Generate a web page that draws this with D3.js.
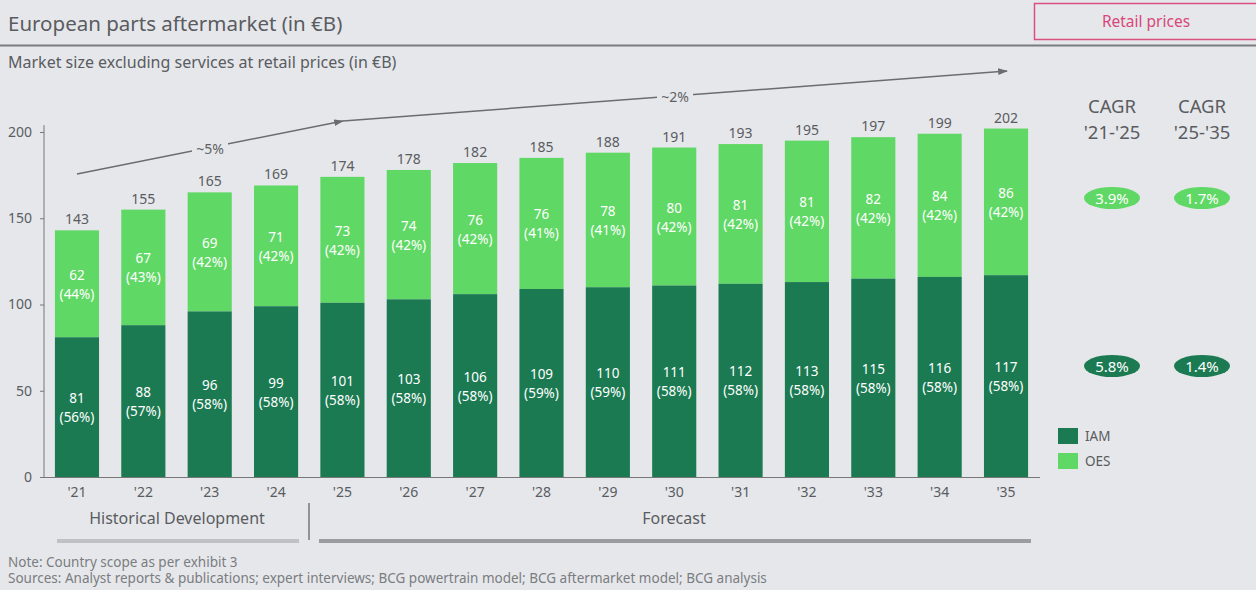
<!DOCTYPE html>
<html>
<head>
<meta charset="utf-8">
<script src="https://cdn.jsdelivr.net/npm/d3@7/dist/d3.min.js"></script>
<style>
  html, body { margin: 0; padding: 0; background: #e6e7eb; }
  svg { display: block; font-family: "Noto Sans", "DejaVu Sans", sans-serif; }
</style>
</head>
<body>
<svg id="chart" width="1256" height="590"></svg>
<script>
// Market size (€B) per year
const years = ["'21","'22","'23","'24","'25","'26","'27","'28","'29","'30","'31","'32","'33","'34","'35"];
const totals = [143,155,165,169,174,178,182,185,188,191,193,195,197,199,202];
const iamValues = [81,88,96,99,101,103,106,109,110,111,112,113,115,116,117];
const iamShare = [56,57,58,58,58,58,58,59,59,58,58,58,58,58,58];
const oesValues = [62,67,69,71,73,74,76,76,78,80,81,81,82,84,86];
const oesShare = [44,43,42,42,42,42,42,41,41,42,42,42,42,42,42];
const yTicks = [0,50,100,150,200];
const cagrHeaders = [["CAGR","'21-'25"],["CAGR","'25-'35"]];
const cagrOes = ["3.9%","1.7%"];
const cagrIam = ["5.8%","1.4%"];
const trendLabels = ["~5%","~2%"];

const C_IAM = "#1b7a52";
const C_OES = "#5fd865";
const TXT = "#595c60";
const BG = "#e6e7eb";

const svg = d3.select("#chart");

const x = d3.scaleBand().domain(years).range([43.8, 1039.2])
  .paddingInner(0.335).paddingOuter(0.1675);
const y = d3.scaleLinear().domain([0, 200]).range([477, 132]);

// Header
svg.append("text").attr("x", 8).attr("y", 31).attr("font-size", 20.5)
  .attr("fill", TXT).text("European parts aftermarket (in €B)");
svg.append("line").attr("x1", 0).attr("x2", 1256).attr("y1", 45.5).attr("y2", 45.5)
  .attr("stroke", "#7a7d80").attr("stroke-width", 2);
svg.append("rect").attr("x", 1034.5).attr("y", 3.5).attr("width", 230).attr("height", 36)
  .attr("fill", "none").attr("stroke", "#d9507f").attr("stroke-width", 1.5);
svg.append("text").attr("x", 1146).attr("y", 27).attr("text-anchor", "middle")
  .attr("font-size", 15.5).attr("fill", "#d9477a").text("Retail prices");
svg.append("text").attr("x", 8).attr("y", 68).attr("font-size", 16)
  .attr("fill", TXT).text("Market size excluding services at retail prices (in €B)");

// Y axis
const yAxis = d3.axisLeft(y).tickValues(yTicks).tickSize(4).tickPadding(8);
const gy = svg.append("g").attr("transform", "translate(44,0)").call(yAxis);
gy.select(".domain").attr("d", "M0," + y(0) + "V" + y(204)).attr("stroke", "#777");
gy.selectAll(".tick line").attr("stroke", "#777");
gy.selectAll(".tick text").attr("font-size", 14).attr("fill", TXT)
  .attr("font-family", "'Noto Sans', sans-serif");

// X axis
const xAxis = d3.axisBottom(x).tickSize(0).tickPadding(10);
const gx = svg.append("g").attr("transform", "translate(0," + y(0) + ")").call(xAxis);
gx.select(".domain").attr("d", "M40,0.5H1040").attr("stroke", "#777");
gx.selectAll(".tick text").attr("font-size", 14).attr("fill", TXT)
  .attr("font-family", "'Noto Sans', sans-serif");

// Stacked bars
const bars = svg.append("g");
years.forEach((yr, i) => {
  const bx = x(yr), bw = x.bandwidth(), cx = bx + bw / 2;
  bars.append("rect").attr("x", bx).attr("width", bw)
    .attr("y", y(totals[i])).attr("height", y(iamValues[i]) - y(totals[i])).attr("fill", C_OES);
  bars.append("rect").attr("x", bx).attr("width", bw)
    .attr("y", y(iamValues[i])).attr("height", y(0) - y(iamValues[i])).attr("fill", C_IAM);

  const oesMid = (y(totals[i]) + y(iamValues[i])) / 2;
  const iamMid = (y(iamValues[i]) + y(0)) / 2;
  [[oesMid, oesValues[i], oesShare[i]], [iamMid, iamValues[i], iamShare[i]]].forEach(([m, v, s]) => {
    bars.append("text").attr("x", cx).attr("y", m - 4).attr("text-anchor", "middle")
      .attr("font-size", 13.5).attr("fill", "#fff").text(v);
    bars.append("text").attr("x", cx).attr("y", m + 15).attr("text-anchor", "middle")
      .attr("font-size", 13.5).attr("fill", "#fff").text("(" + s + "%)");
  });
  bars.append("text").attr("x", cx).attr("y", y(totals[i]) - 6).attr("text-anchor", "middle")
    .attr("font-size", 14).attr("fill", TXT).text(totals[i]);
});

// Growth trend arrows
const defs = svg.append("defs");
defs.append("marker").attr("id", "arrow").attr("viewBox", "0 0 10 10")
  .attr("refX", 9).attr("refY", 5).attr("markerWidth", 7).attr("markerHeight", 7)
  .attr("orient", "auto").append("path").attr("d", "M0,1.5L10,5L0,8.5Z").attr("fill", "#6a6d70");

const trends = [
  { from: [x(years[0]) + x.bandwidth() / 2, 174], to: [343, 121], label: trendLabels[0], at: [210, 149] },
  { from: [343, 121], to: [1007, 71], label: trendLabels[1], at: [675, 97] }
];
trends.forEach(t => {
  svg.append("line").attr("x1", t.from[0]).attr("y1", t.from[1])
    .attr("x2", t.to[0]).attr("y2", t.to[1]).attr("stroke", "#6a6d70")
    .attr("stroke-width", 1.4).attr("marker-end", "url(#arrow)");
  svg.append("rect").attr("x", t.at[0] - 18).attr("y", t.at[1] - 9).attr("width", 36)
    .attr("height", 18).attr("fill", BG);
  svg.append("text").attr("x", t.at[0]).attr("y", t.at[1] + 5).attr("text-anchor", "middle")
    .attr("font-size", 14).attr("fill", "#5f6265").text(t.label);
});

// CAGR columns
const cagrX = [1112, 1202];
cagrHeaders.forEach((h, j) => {
  svg.append("text").attr("x", cagrX[j]).attr("y", 113).attr("text-anchor", "middle")
    .attr("font-size", 18.5).attr("fill", TXT).text(h[0]);
  svg.append("text").attr("x", cagrX[j]).attr("y", 139).attr("text-anchor", "middle")
    .attr("font-size", 18.5).attr("fill", TXT).text(h[1]);
});
[[cagrOes, C_OES, 198], [cagrIam, C_IAM, 366]].forEach(([vals, col, cy]) => {
  vals.forEach((v, j) => {
    svg.append("ellipse").attr("cx", cagrX[j]).attr("cy", cy).attr("rx", 28).attr("ry", 11)
      .attr("fill", col);
    svg.append("text").attr("x", cagrX[j]).attr("y", cy + 5.5).attr("text-anchor", "middle")
      .attr("font-size", 15).attr("fill", "#fff").text(v);
  });
});

// Legend
[["IAM", C_IAM, 428], ["OES", C_OES, 453]].forEach(([name, col, ly]) => {
  svg.append("rect").attr("x", 1058).attr("y", ly).attr("width", 20).attr("height", 16).attr("fill", col);
  svg.append("text").attr("x", 1085).attr("y", ly + 13).attr("font-size", 13.5)
    .attr("fill", TXT).text(name);
});

// Period brackets
svg.append("text").attr("x", 177).attr("y", 524).attr("text-anchor", "middle")
  .attr("font-size", 16).attr("fill", TXT).text("Historical Development");
svg.append("line").attr("x1", 57).attr("x2", 299).attr("y1", 541).attr("y2", 541)
  .attr("stroke", "#bfc1c4").attr("stroke-width", 4);
svg.append("line").attr("x1", 309).attr("x2", 309).attr("y1", 503).attr("y2", 540)
  .attr("stroke", "#777").attr("stroke-width", 1.5);
svg.append("text").attr("x", 674).attr("y", 524).attr("text-anchor", "middle")
  .attr("font-size", 16).attr("fill", TXT).text("Forecast");
svg.append("line").attr("x1", 319).attr("x2", 1031).attr("y1", 541).attr("y2", 541)
  .attr("stroke", "#9a9c9f").attr("stroke-width", 4);

// Footnotes
svg.append("text").attr("x", 8).attr("y", 567).attr("font-size", 13.5).attr("fill", "#7a7d80")
  .text("Note: Country scope as per exhibit 3");
svg.append("text").attr("x", 8).attr("y", 583).attr("font-size", 13.5).attr("fill", "#7a7d80")
  .text("Sources: Analyst reports & publications; expert interviews; BCG powertrain model; BCG aftermarket model; BCG analysis");
</script>
</body>
</html>
